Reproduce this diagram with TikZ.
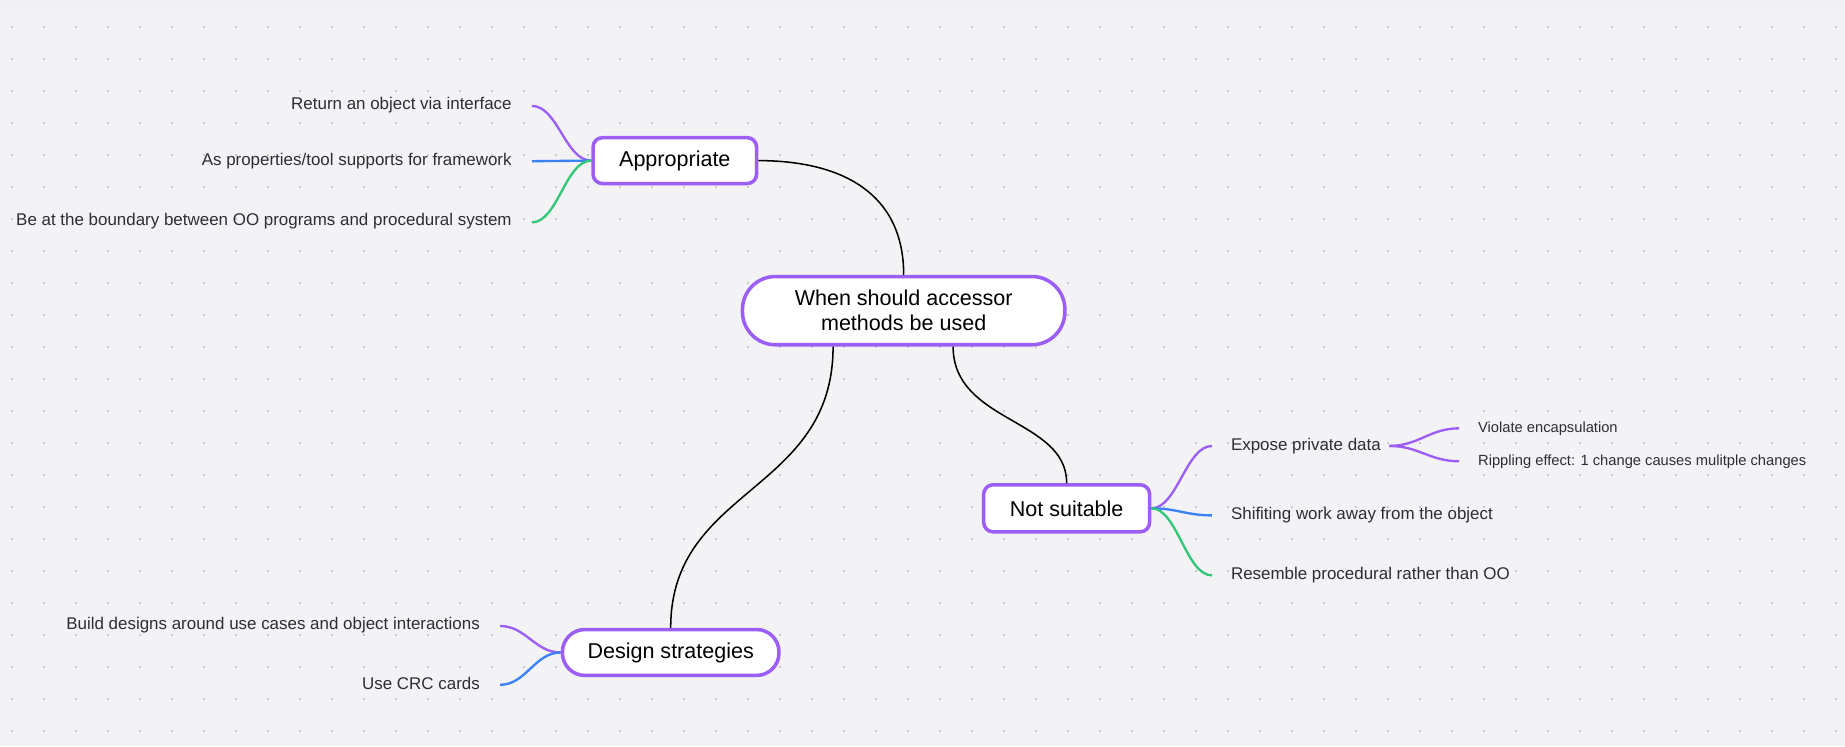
\documentclass[tikz,border=0pt]{standalone}
\usepackage{fontspec}
\setmainfont{Liberation Sans}
\definecolor{bg}{RGB}{243,243,246}
\definecolor{bgtop}{RGB}{240,240,243}
\definecolor{dotc}{RGB}{200,200,208}
\definecolor{purp}{RGB}{156,94,245}
\definecolor{blu}{RGB}{59,130,246}
\definecolor{grn}{RGB}{52,199,120}
\definecolor{txt}{RGB}{45,45,50}
\begin{document}
\begin{tikzpicture}[x=1pt,y=-1pt,
  conn/.style={line width=1.3pt,black},
  pline/.style={line width=2pt,purp},
  bline/.style={line width=2pt,blu},
  gline/.style={line width=2pt,grn},
  topic/.style={draw=purp,line width=3pt,fill=white,font=\fontsize{18.3}{21.5}\selectfont,text=black,inner sep=0pt},
  leaf/.style={font=\fontsize{14.4}{17}\selectfont,text=txt,inner sep=0pt},
  subleaf/.style={font=\fontsize{12.5}{15}\selectfont,text=txt,inner sep=0pt}]
\useasboundingbox (0,0) rectangle (1568,634);
\fill[bg] (0,0) rectangle (1568,634);
\fill[bgtop] (0,0) rectangle (1568,8);
\foreach \i in {0,...,57}{\foreach \j in {0,...,22}{
  \fill[dotc] ({10.2+27.2*\i-0.7},{22.7+27.2*\j-0.7}) rectangle +(1.4,1.4);}}
% main nodes
\node[topic,rounded corners=28pt,minimum width=274pt,minimum height=58pt,align=center] (root) at (768,264) {When should accessor\\methods be used};
\node[topic,rounded corners=8pt,minimum width=139pt,minimum height=39pt] (app) at (573.5,136.5) {Appropriate};
\node[topic,rounded corners=8pt,minimum width=141pt,minimum height=40pt] (ns) at (906.5,432) {Not suitable};
\node[topic,rounded corners=19pt,minimum width=184pt,minimum height=39pt] (ds) at (570,554.5) {Design strategies};
% main connectors
\draw[conn] (app.east) .. controls +(70,0) and +(0,-70) .. (root.north);
\draw[conn] ([xshift=-60pt]root.south) .. controls +(0,125) and +(0,-120) .. (ds.north);
\draw[conn] ([xshift=42pt]root.south) .. controls +(0,65) and +(0,-55) .. (ns.north);
% appropriate leaves
\node[leaf,anchor=east] (a1) at (435,89) {Return an object via interface};
\node[leaf,anchor=east] (a2) at (435,137) {As properties/tool supports for framework};
\node[leaf,anchor=east] (a3) at (435,188) {Be at the boundary between OO programs and procedural system};
\draw[pline] ([xshift=17pt,yshift=-1pt]a1.east) .. controls +(22,0) and +(-22,0) .. (app.west);
\draw[bline] ([xshift=17pt]a2.east) -- (app.west);
\draw[gline] ([xshift=17pt,yshift=-1pt]a3.east) .. controls +(22,0) and +(-22,0) .. (app.west);
% not suitable leaves
\node[leaf,anchor=west] (n1) at (1046,379) {Expose private data};
\node[leaf,anchor=west] (n2) at (1046,438) {Shifiting work away from the object};
\node[leaf,anchor=west] (n3) at (1046,489) {Resemble procedural rather than OO};
\draw[pline] (ns.east) .. controls +(22,0) and +(-22,0) .. ([xshift=-16pt]n1.west);
\draw[bline] (ns.east) .. controls +(22,0) and +(-22,0) .. ([xshift=-16pt]n2.west);
\draw[gline] (ns.east) .. controls +(22,0) and +(-22,0) .. ([xshift=-16pt]n3.west);
% expose sub-leaves
\node[subleaf,anchor=west] (e1) at (1256,364) {Violate encapsulation};
\node[subleaf,anchor=west] (e2) at (1256,392) {Rippling effect: 1 change causes mulitple changes};
\draw[pline] ([xshift=7pt]n1.east) .. controls +(25,0) and +(-25,0) .. ([xshift=-16pt]e1.west);
\draw[pline] ([xshift=7pt]n1.east) .. controls +(25,0) and +(-25,0) .. ([xshift=-16pt]e2.west);
% design strategies leaves
\node[leaf,anchor=east] (d1) at (408,531) {Build designs around use cases and object interactions};
\node[leaf,anchor=east] (d2) at (408,581) {Use CRC cards};
\draw[pline] ([xshift=17pt,yshift=-1pt]d1.east) .. controls +(22,0) and +(-22,0) .. (ds.west);
\draw[bline] ([xshift=17pt,yshift=-1pt]d2.east) .. controls +(22,0) and +(-22,0) .. (ds.west);
\end{tikzpicture}
\end{document}
